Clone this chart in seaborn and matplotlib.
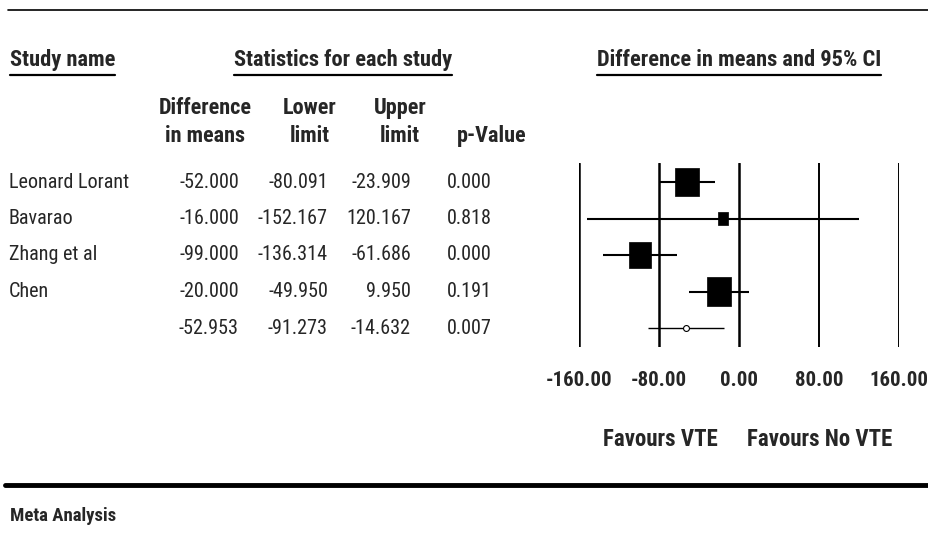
import os
import numpy as np
import pandas as pd
import matplotlib
matplotlib.use("Agg")
import matplotlib.pyplot as plt
from matplotlib.path import Path
from matplotlib import font_manager as fm
import seaborn as sns

studies = ['Leonard Lorant', 'Bavarao', 'Zhang et al', 'Chen', '']
diff = [-52.000, -16.000, -99.000, -20.000, -52.953]
lower = [-80.091, -152.167, -136.314, -49.950, -91.273]
upper = [-23.909, 120.167, -61.686, 9.950, -14.632]
pvals = [0.000, 0.818, 0.000, 0.191, 0.007]
weights = [31.0, 5.8, 28.6, 34.6]  # relative weight (%)
xticks = [-160, -80, 0, 80, 160]
col_heads = ['Difference\nin means', 'Lower\nlimit', 'Upper\nlimit', 'p-Value']
favours = ['Favours VTE', 'Favours No VTE']

sns.set_theme(style='white')
plt.rcParams['font.family'] = ['Liberation Sans', 'DejaVu Sans']

# the original uses a narrow Arial-like face; look for a condensed one
font_files = {os.path.basename(f).lower(): f for f in fm.findSystemFonts()}


def pick(names):
    for n in names:
        if n.lower() in font_files:
            return font_files[n.lower()]
    return None


reg_file = pick(['LiberationSansNarrow-Regular.ttf', 'RobotoCondensed-Regular.ttf',
                 'NotoSans-Condensed.ttf', 'DejaVuSansCondensed.ttf'])
bold_file = pick(['LiberationSansNarrow-Bold.ttf', 'RobotoCondensed-Bold.ttf',
                  'NotoSans-CondensedBold.ttf', 'DejaVuSansCondensed-Bold.ttf'])
scale = 1.0 if (reg_file and bold_file) else 0.8


def font(size, bold=False):
    f = bold_file if bold else reg_file
    if f:
        return fm.FontProperties(fname=f, size=size * scale)
    return fm.FontProperties(family=['Liberation Sans', 'DejaVu Sans'],
                             weight='bold' if bold else 'normal', size=size * scale)


W, H = 929, 534
fig = plt.figure(figsize=(W / 100, H / 100), dpi=100)

bg = fig.add_axes([0, 0, 1, 1])
bg.set_xlim(0, W)
bg.set_ylim(H, 0)
bg.axis('off')

# forest axes: x=-160 -> 579px, x=160 -> 899px, rows from 182px every 36.5px
row0, step = 182, 36.5
top, bottom = 163, 347
ax = fig.add_axes([579 / W, 1 - bottom / H, 320 / W, (bottom - top) / H])
ax.set_xlim(-160, 160)
ax.set_ylim((bottom - row0) / step, (top - row0) / step)

df = pd.DataFrame({'study': studies, 'diff': diff, 'lower': lower,
                   'upper': upper, 'p': pvals})
df['row'] = np.arange(len(df))
stud = df.iloc[:4].copy()
stud['w'] = weights
summ = df.iloc[4:]

for t in xticks:
    ax.axvline(t, color='black', lw=1.8 if t < 80 else 1.4, zorder=1)

ax.hlines(stud['row'], stud['lower'], stud['upper'], color='black', lw=1.5, zorder=2)
ax.hlines(summ['row'], summ['lower'], summ['upper'], color='black', lw=1.0, zorder=2)

rect = Path([(-0.83, -1), (0.83, -1), (0.83, 1), (-0.83, 1), (-0.83, -1)],
            [Path.MOVETO, Path.LINETO, Path.LINETO, Path.LINETO, Path.CLOSEPOLY])
sizes = {w: (np.sqrt(w * 20.78 * 1.2) * 0.72) ** 2 for w in weights}
sns.scatterplot(data=stud, x='diff', y='row', size='w', sizes=sizes,
                marker=rect, color='black', edgecolor='black', linewidth=0.5,
                legend=False, ax=ax, zorder=3)
sns.scatterplot(data=summ, x='diff', y='row', marker='o', s=18,
                facecolor='white', edgecolor='black', linewidth=0.8,
                legend=False, ax=ax, zorder=3)

ax.set_xticks(xticks, [f'{t:.2f}' for t in xticks])
for lbl in ax.get_xticklabels():
    lbl.set_fontproperties(font(15, True))
ax.set_yticks([])
ax.tick_params(axis='x', length=0, pad=17)
ax.set_xlabel('')
ax.set_ylabel('')
for s in ax.spines.values():
    s.set_visible(False)

fig.canvas.draw()
rend = fig.canvas.get_renderer()
heads = [('Study name', 10, 'left'), ('Statistics for each study', 343, 'center'),
         ('Difference in means and 95% CI', 739, 'center')]
for txt, x, ha in heads:
    t = bg.text(x, 60, txt, ha=ha, va='center', fontproperties=font(16.2, True))
    bb = t.get_window_extent(rend)
    bg.plot([bb.x0, bb.x1], [75, 75], color='black', lw=1.6)

col_x = [205, 310, 400, 492]
for x, txt in zip(col_x, col_heads):
    lines = txt.split('\n')
    ys = [108, 136] if len(lines) == 2 else [136]
    for y, line in zip(ys, lines):
        bg.text(x, y, line, ha='center', va='center', fontproperties=font(16, True))

num_right = [239, 328, 411, 492]
for i, r in df.iterrows():
    y = row0 + step * i
    bg.text(9, y, r['study'], ha='left', va='center', fontproperties=font(14.5))
    for x, col in zip(num_right, ['diff', 'lower', 'upper', 'p']):
        bg.text(x, y, f"{r[col]:.3f}", ha='right', va='center', fontproperties=font(14.5))

bg.text(660, 439, favours[0], ha='center', va='center', fontproperties=font(16.5, True))
bg.text(820, 439, favours[1], ha='center', va='center', fontproperties=font(16.5, True))

bg.plot([8, W], [10, 10], color='black', lw=1.2)
bg.plot([5, W], [485, 485], color='black', lw=3.5)
bg.text(10, 516, 'Meta Analysis', ha='left', va='center', fontproperties=font(13.5, True))

fig.savefig('out.png', dpi=100)
